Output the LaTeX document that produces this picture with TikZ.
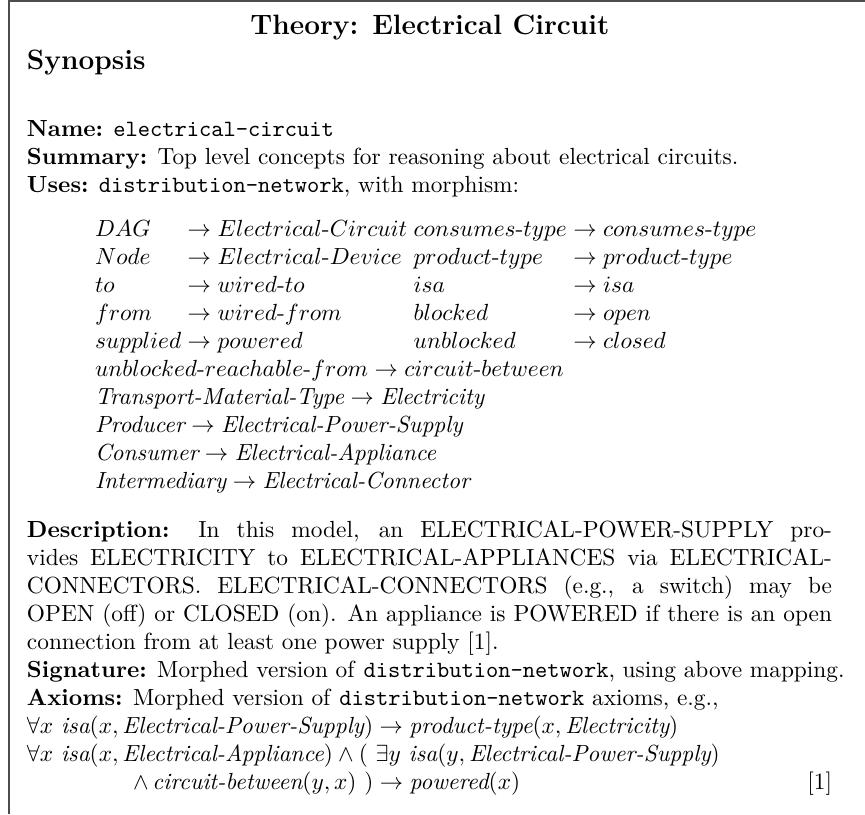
\documentclass[tikz,border=0pt]{standalone}
\usepackage{amsmath}
\usepackage{amssymb}
\usetikzlibrary{positioning}
\newcommand{\hy}{\mbox{-}}
\newcommand{\fullline}[1]{\makebox[345pt][s]{#1}}
\tikzset{
  txt/.style={anchor=base west, inner sep=0pt, outer sep=0pt},
  frame/.style={draw=black!70, line width=0.8pt},
}
\begin{document}
\begin{tikzpicture}[x=0.42857pt, y=-0.42857pt]
    \useasboundingbox (0,0) rectangle (865,814);

    % frame
    \coordinate (BL) at (9,814);
    \coordinate (TL) at (9,1);
    \coordinate (TR) at (865,1);
    \draw[frame] (BL) -- (TL) -- (TR);

    % title
    \node[txt, anchor=base] (title) at (430,34) {\large\bfseries Theory: Electrical Circuit};
    \node[txt] (synopsis) at (27,69) {\large\bfseries Synopsis};

    % name, summary, uses
    \node[txt] (name) at (27,136) {\textbf{Name:} \texttt{electrical-circuit}};
    \node[txt] (summary) at (27,164) {\textbf{Summary:} Top level concepts for reasoning about electrical circuits.};
    \node[txt] (uses) at (27,192) {\textbf{Uses:} \texttt{distribution-network}, with morphism:};

    % morphism
    \node[txt] (morph) at (95,236) {$\begin{array}[t]{@{}l@{\;}l@{\;}l@{\;}l@{}}
        DAG & \rightarrow Electrical\hy Circuit & consumes\hy type & \rightarrow consumes\hy type\\
        Node & \rightarrow Electrical\hy Device & product\hy type & \rightarrow product\hy type\\
        to & \rightarrow wired\hy to & isa & \rightarrow isa\\
        from & \rightarrow wired\hy from & blocked & \rightarrow open\\
        supplied & \rightarrow powered & unblocked & \rightarrow closed
      \end{array}$};
    \node[txt] (reach) at (95,376) {$unblocked\hy reachable\hy from \rightarrow circuit\hy between$};
    \node[txt] (transport) at (95,404) {$\textit{Transport-Material-Type} \rightarrow \textit{Electricity}$};
    \node[txt] (producer) at (95,432) {$\textit{Producer} \rightarrow \textit{Electrical-Power-Supply}$};
    \node[txt] (consumer) at (95,460) {$\textit{Consumer} \rightarrow \textit{Electrical-Appliance}$};
    \node[txt] (intermed) at (95,488) {$\textit{Intermediary} \rightarrow \textit{Electrical-Connector}$};

    % description
    \node[txt] (descA) at (27,537) {\fullline{\textbf{Description:} In this model, an ELECTRICAL-POWER-SUPPLY pro-}};
    \node[txt] (descB) at (27,565) {\fullline{vides ELECTRICITY to ELECTRICAL-APPLIANCES via ELECTRICAL-}};
    \node[txt] (descC) at (27,593) {\fullline{CONNECTORS. ELECTRICAL-CONNECTORS (e.g., a switch) may be}};
    \node[txt] (descD) at (27,621) {\fullline{OPEN (off) or CLOSED (on). An appliance is POWERED if there is an open}};
    \node[txt] (descE) at (27,649) {connection from at least one power supply [1].};

    % signature, axioms
    \node[txt] (signature) at (27,677) {\textbf{Signature:} Morphed version of \texttt{distribution-network}, using above mapping.};
    \node[txt] (axioms) at (27,705) {\textbf{Axioms:} Morphed version of \texttt{distribution-network} axioms, e.g.,};
    \node[txt] (axA) at (27,733) {$\forall x\ \textit{isa}(x, \textit{Electrical-Power-Supply}) \rightarrow \textit{product-type}(x, \textit{Electricity})$};
    \node[txt] (axB) at (27,761) {$\forall x\ \textit{isa}(x, \textit{Electrical-Appliance}) \wedge (\ \exists y\ \textit{isa}(y, \textit{Electrical-Power-Supply})$};
    \node[txt] (axC) at (133,789) {$\wedge\, \textit{circuit-between}(y, x)\ ) \rightarrow \textit{powered}(x)$};
    \node[txt, anchor=base east] (cite) at (832,789) {[1]};

\end{tikzpicture}
\end{document}
